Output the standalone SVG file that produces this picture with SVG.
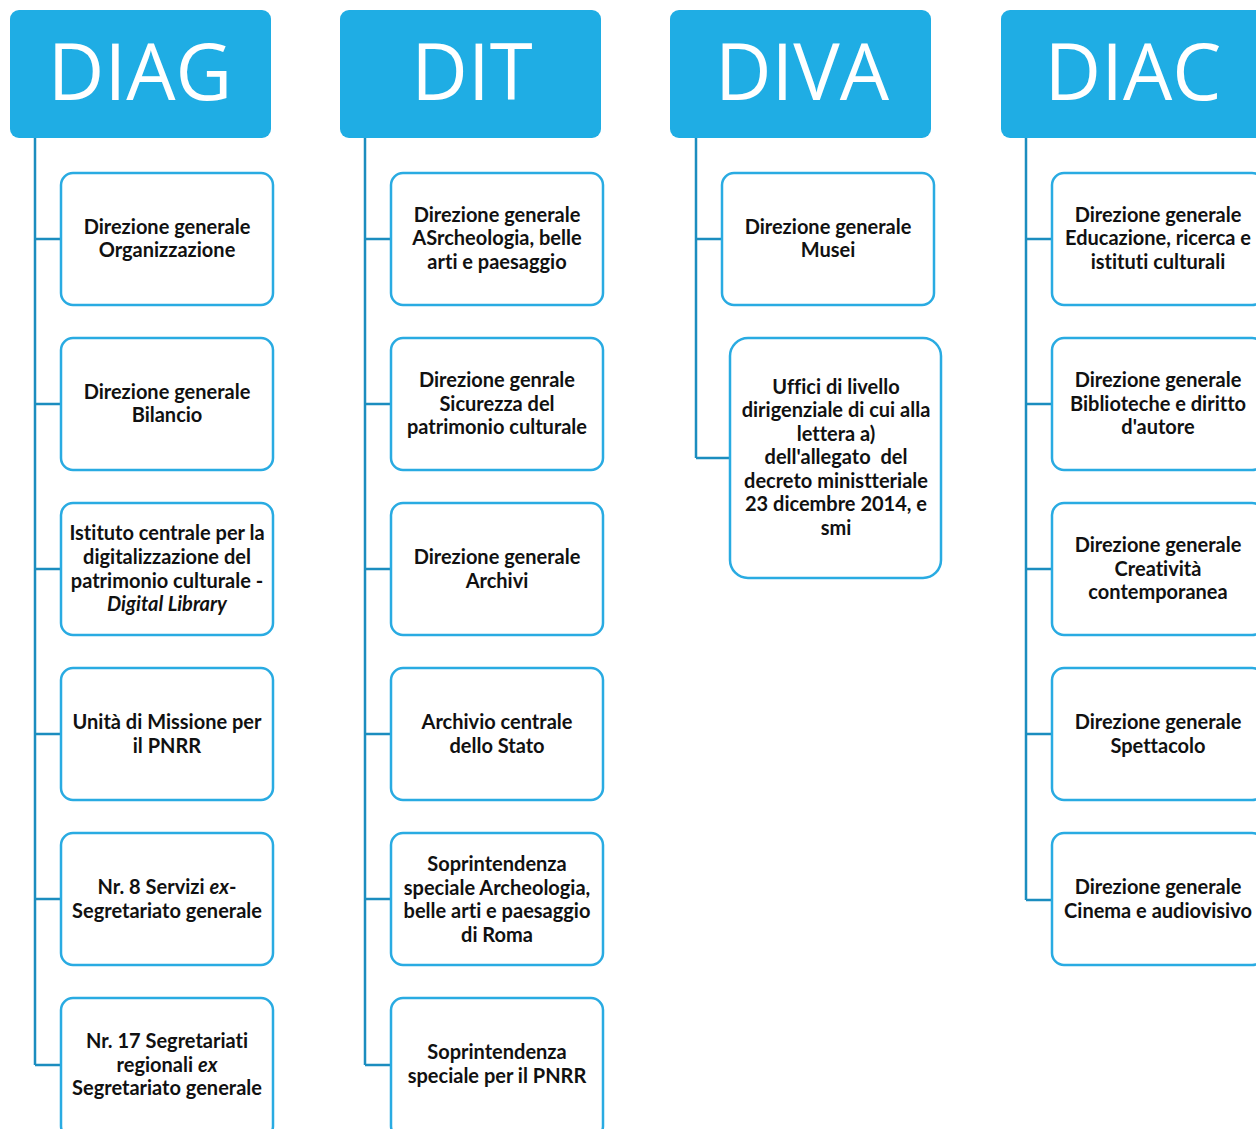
<svg xmlns="http://www.w3.org/2000/svg" width="1256" height="1129" viewBox="0 0 1256 1129">
<style>
.hd{fill:#1fade4}
.ht{fill:#fff;font-family:"Open Sans","Liberation Sans",sans-serif;font-weight:400;font-size:78px;text-anchor:middle}
.bx{fill:#fff;stroke:#29abe2;stroke-width:2.5}
.t{fill:#111;font-family:Lato,"Liberation Sans",sans-serif;font-weight:700;font-size:20px;text-anchor:middle;font-variant-ligatures:none;font-feature-settings:"liga" 0}
.i{font-style:italic}
.c{fill:none;stroke:#1b8dbf;stroke-width:2.5}
</style>
<rect width="1256" height="1129" fill="#fff"/>
<g id="connectors">
<path class="c" d="M35 138V1065M35 239H61M35 404H61M35 569H61M35 734H61M35 899H61M35 1065H61"/>
<path class="c" d="M365 138V1065M365 239H391M365 404H391M365 569H391M365 734H391M365 899H391M365 1065H391"/>
<path class="c" d="M696 138V458M696 239H722M696 458H730"/>
<path class="c" d="M1026 138V900M1026 239H1052M1026 404H1052M1026 569H1052M1026 734H1052M1026 900H1052"/>
</g>
<g id="h-diag"><rect class="hd" x="10" y="10" width="261" height="128" rx="9"/><text class="ht" x="140" y="100">DIAG</text></g>
<g id="h-dit"><rect class="hd" x="340" y="10" width="261" height="128" rx="9"/><text class="ht" x="472" y="100">DIT</text></g>
<g id="h-diva"><rect class="hd" x="670" y="10" width="261" height="128" rx="9"/><text class="ht" x="802" y="100">DIVA</text></g>
<g id="h-diac"><rect class="hd" x="1001" y="10" width="270" height="128" rx="9"/><text class="ht" x="1133" y="100">DIAC</text></g>

<g id="diag1"><rect class="bx" x="61" y="173" width="212" height="132" rx="12"/><text class="t" x="167"><tspan x="167" y="234">Direzione generale</tspan><tspan x="167" y="257">Organizzazione</tspan></text></g>
<g id="diag2"><rect class="bx" x="61" y="338" width="212" height="132" rx="12"/><text class="t" x="167"><tspan x="167" y="399">Direzione generale</tspan><tspan x="167" y="422">Bilancio</tspan></text></g>
<g id="diag3"><rect class="bx" x="61" y="503" width="212" height="132" rx="12"/><text class="t" x="167"><tspan x="167" y="540">Istituto centrale per la</tspan><tspan x="167" y="564">digitalizzazione del</tspan><tspan x="167" y="588">patrimonio culturale -</tspan><tspan x="167" y="611" class="i">Digital Library</tspan></text></g>
<g id="diag4"><rect class="bx" x="61" y="668" width="212" height="132" rx="12"/><text class="t" x="167"><tspan x="167" y="729">Unità di Missione per</tspan><tspan x="167" y="753">il PNRR</tspan></text></g>
<g id="diag5"><rect class="bx" x="61" y="833" width="212" height="132" rx="12"/><text class="t" x="167"><tspan x="167" y="894">Nr. 8 Servizi <tspan class="i">ex</tspan>-</tspan><tspan x="167" y="918">Segretariato generale</tspan></text></g>
<g id="diag6"><rect class="bx" x="61" y="998" width="212" height="140" rx="12"/><text class="t" x="167"><tspan x="167" y="1048">Nr. 17 Segretariati</tspan><tspan x="167" y="1072">regionali <tspan class="i">ex</tspan></tspan><tspan x="167" y="1095">Segretariato generale</tspan></text></g>

<g id="dit1"><rect class="bx" x="391" y="173" width="212" height="132" rx="12"/><text class="t" x="497"><tspan x="497" y="222">Direzione generale</tspan><tspan x="497" y="245">ASrcheologia, belle</tspan><tspan x="497" y="269">arti e paesaggio</tspan></text></g>
<g id="dit2"><rect class="bx" x="391" y="338" width="212" height="132" rx="12"/><text class="t" x="497"><tspan x="497" y="387">Direzione genrale</tspan><tspan x="497" y="411">Sicurezza del</tspan><tspan x="497" y="434">patrimonio culturale</tspan></text></g>
<g id="dit3"><rect class="bx" x="391" y="503" width="212" height="132" rx="12"/><text class="t" x="497"><tspan x="497" y="564">Direzione generale</tspan><tspan x="497" y="588">Archivi</tspan></text></g>
<g id="dit4"><rect class="bx" x="391" y="668" width="212" height="132" rx="12"/><text class="t" x="497"><tspan x="497" y="729">Archivio centrale</tspan><tspan x="497" y="753">dello Stato</tspan></text></g>
<g id="dit5"><rect class="bx" x="391" y="833" width="212" height="132" rx="12"/><text class="t" x="497"><tspan x="497" y="871">Soprintendenza</tspan><tspan x="497" y="895">speciale Archeologia,</tspan><tspan x="497" y="918">belle arti e paesaggio</tspan><tspan x="497" y="942">di Roma</tspan></text></g>
<g id="dit6"><rect class="bx" x="391" y="998" width="212" height="140" rx="12"/><text class="t" x="497"><tspan x="497" y="1059">Soprintendenza</tspan><tspan x="497" y="1083">speciale per il PNRR</tspan></text></g>

<g id="diva1"><rect class="bx" x="722" y="173" width="212" height="132" rx="12"/><text class="t" x="828"><tspan x="828" y="234">Direzione generale</tspan><tspan x="828" y="257">Musei</tspan></text></g>
<g id="diva2"><rect class="bx" x="730" y="338" width="211" height="240" rx="18"/><text class="t" x="836"><tspan x="836" y="394">Uffici di livello</tspan><tspan x="836" y="417">dirigenziale di cui alla</tspan><tspan x="836" y="441">lettera a)</tspan><tspan x="836" y="464" style="white-space:pre">dell'allegato  del</tspan><tspan x="836" y="488">decreto ministteriale</tspan><tspan x="836" y="511">23 dicembre 2014, e</tspan><tspan x="836" y="535">smi</tspan></text></g>

<g id="diac1"><rect class="bx" x="1052" y="173" width="212" height="132" rx="12"/><text class="t" x="1158"><tspan x="1158" y="222">Direzione generale</tspan><tspan x="1158" y="245">Educazione, ricerca e</tspan><tspan x="1158" y="269">istituti culturali</tspan></text></g>
<g id="diac2"><rect class="bx" x="1052" y="338" width="212" height="132" rx="12"/><text class="t" x="1158"><tspan x="1158" y="387">Direzione generale</tspan><tspan x="1158" y="411">Biblioteche e diritto</tspan><tspan x="1158" y="434">d'autore</tspan></text></g>
<g id="diac3"><rect class="bx" x="1052" y="503" width="212" height="132" rx="12"/><text class="t" x="1158"><tspan x="1158" y="552">Direzione generale</tspan><tspan x="1158" y="576">Creatività</tspan><tspan x="1158" y="599">contemporanea</tspan></text></g>
<g id="diac4"><rect class="bx" x="1052" y="668" width="212" height="132" rx="12"/><text class="t" x="1158"><tspan x="1158" y="729">Direzione generale</tspan><tspan x="1158" y="753">Spettacolo</tspan></text></g>
<g id="diac5"><rect class="bx" x="1052" y="833" width="212" height="132" rx="12"/><text class="t" x="1158"><tspan x="1158" y="894">Direzione generale</tspan><tspan x="1158" y="918">Cinema e audiovisivo</tspan></text></g>
</svg>
